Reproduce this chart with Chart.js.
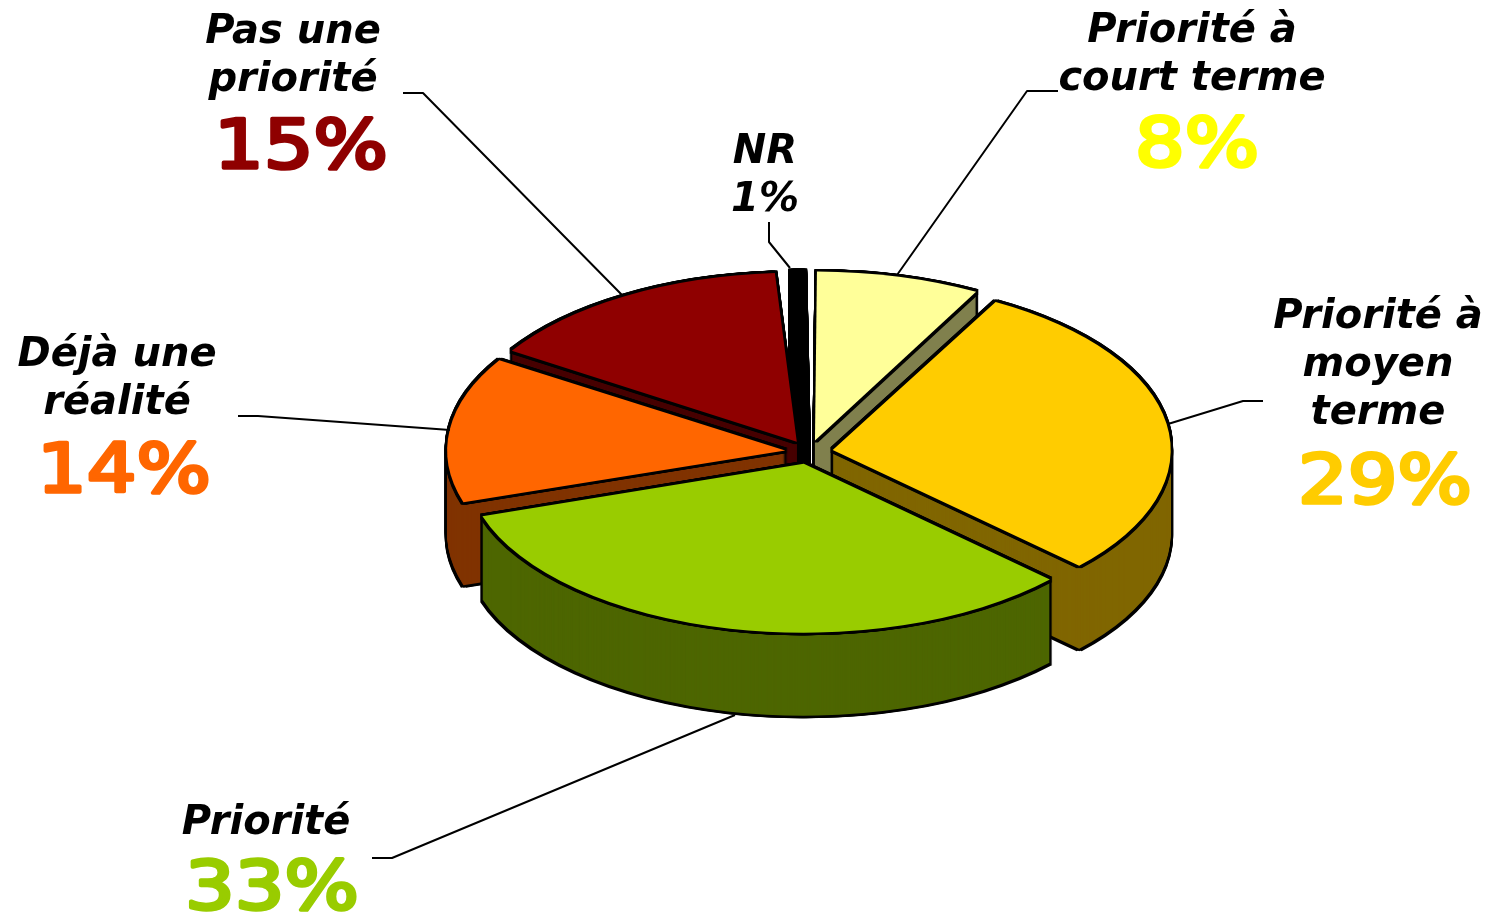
<!DOCTYPE html>
<html lang="fr">
<head>
<meta charset="utf-8">
<title>Priorité</title>
<style>html,body{margin:0;padding:0;background:#fff}canvas{display:block}</style>
<script src="https://cdn.jsdelivr.net/npm/chart.js@4"></script>
</head>
<body>
<canvas id="c" width="1490" height="914"></canvas>
<script>
const categories = ["Priorité à court terme", "Priorité à moyen terme", "Priorité", "Déjà une réalité", "Pas une priorité", "NR"];
const values = [8, 29, 33, 14, 15, 1];
const topColors = ["#FFFF99", "#FFCC00", "#99CC00", "#FF6600", "#8F0000", "#000000"];
const wallColors = ["#80804D", "#806600", "#4D6600", "#803300", "#470000", "#000000"];
const percentColors = ["#FFFF00", "#FFCC00", "#99CC00", "#FF6600", "#8F0000", "#000000"];
const paintOrder = [5, 4, 0, 3, 1, 2];

const nameLines = [["Priorité à", "court terme"], ["Priorité à", "moyen", "terme"], ["Priorité"], ["Déjà une", "réalité"], ["Pas une", "priorité"], ["NR"]];
const labelCenterX = [1192, 1378, 266, 117, 293, 765];
const labelBaseY = [42, 328, 834, 366, 43, 163];
const percentCenterX = [1197, 1385, 272, 124, 301, 765];
const percentBaseY = [166, 503, 909, 492, 168, 211];
const leaders = [
  [[1058, 91], [1027, 91], [897, 275]],
  [[1263, 401], [1243, 401], [1168, 424]],
  [[372, 858], [392, 858], [735, 715]],
  [[238, 416], [258, 416], [450, 430]],
  [[403, 93], [423, 93], [622, 295]],
  [[769, 222], [769, 242], [790, 268]]
];

const tilt = 0.5, depth = 83, radius = 338, explode = 96, outline = 2.5;

function squash(ctx, chart) {
  const a = chart.getDatasetMeta(0).data[0];
  ctx.translate(a.x, a.y);
  ctx.scale(1, tilt);
  ctx.translate(-a.x, -a.y);
}
function drawAt(arc, ctx, chart, fill, dx, dy) {
  const saved = arc.options;
  arc.options = {
    backgroundColor: fill, borderColor: fill, borderWidth: 0, borderAlign: 'center',
    borderJoinStyle: 'round', borderDash: [], borderDashOffset: 0, borderRadius: 0,
    offset: saved.offset, spacing: 0, circular: true, selfJoin: false
  };
  ctx.save();
  ctx.translate(dx, dy);
  squash(ctx, chart);
  arc.draw(ctx);
  ctx.restore();
  arc.options = saved;
}
const pie3d = {
  id: 'pie3d',
  beforeDatasetsDraw(chart) {
    const ctx = chart.ctx, arcs = chart.getDatasetMeta(0).data;
    // keep the true radius: the library grows thin exploded slices by offset * fix
    arcs.forEach(arc => {
      const fix = 1 - Math.sin(Math.min(Math.PI, arc.circumference));
      arc.outerRadius = radius - (explode / 4) * fix;
    });
    paintOrder.forEach(i => {
      const arc = arcs[i];
      for (let d = -outline; d <= depth + outline; d += 1) {
        [-outline, 0, outline].forEach(dx => drawAt(arc, ctx, chart, '#000', dx, d));
      }
      for (let d = depth; d >= 0; d--) drawAt(arc, ctx, chart, wallColors[i], 0, d);
    });
    // black rim around every top face
    arcs.forEach(arc => {
      for (let dy = -outline; dy <= outline; dy += 1) {
        for (let dx = -outline; dx <= outline; dx += 1) drawAt(arc, ctx, chart, '#000', dx, dy);
      }
    });
    ctx.save();
    squash(ctx, chart);
  },
  afterDatasetsDraw(chart) {
    const ctx = chart.ctx;
    ctx.restore();
    ctx.save();
    ctx.strokeStyle = '#000';
    ctx.lineWidth = 2;
    ctx.lineJoin = 'round';
    leaders.forEach(pts => {
      ctx.beginPath();
      pts.forEach((p, k) => k ? ctx.lineTo(p[0], p[1]) : ctx.moveTo(p[0], p[1]));
      ctx.stroke();
    });
    ctx.textAlign = 'center';
    ctx.textBaseline = 'alphabetic';
    categories.forEach((c, i) => {
      ctx.fillStyle = '#000';
      ctx.font = 'italic bold 40px "DejaVu Sans"';
      nameLines[i].forEach((line, k) => ctx.fillText(line, labelCenterX[i], labelBaseY[i] + k * 48));
      if (i === 5) {
        ctx.fillText(values[i] + '%', percentCenterX[i], percentBaseY[i]);
      } else {
        ctx.save();
        ctx.translate(percentCenterX[i], percentBaseY[i]);
        ctx.scale(1.15, 1);
        ctx.fillStyle = percentColors[i];
        ctx.strokeStyle = percentColors[i];
        ctx.lineWidth = 3.5;
        ctx.font = '68px "DejaVu Sans"';
        ctx.fillText(values[i] + '%', 0, 0);
        ctx.strokeText(values[i] + '%', 0, 0);
        ctx.restore();
      }
    });
    ctx.restore();
  }
};
new Chart(document.getElementById('c'), {
  type: 'pie',
  data: {
    labels: categories,
    datasets: [{
      data: values,
      backgroundColor: topColors,
      borderWidth: 0,
      offset: explode,
      clip: false
    }]
  },
  options: {
    responsive: false,
    animation: false,
    radius: radius,
    layout: { padding: { left: 128, bottom: 10 } },
    plugins: { legend: { display: false }, tooltip: { enabled: false } }
  },
  plugins: [pie3d]
});
</script>
</body>
</html>
